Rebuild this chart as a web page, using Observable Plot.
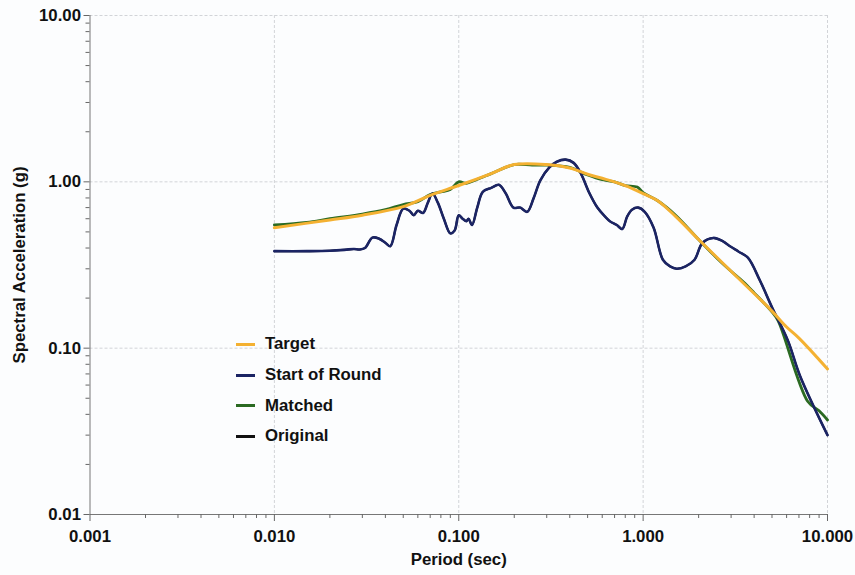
<!DOCTYPE html>
<html><head><meta charset="utf-8">
<script src="https://cdn.jsdelivr.net/npm/d3@7"></script>
<script src="https://cdn.jsdelivr.net/npm/@observablehq/plot@0.6"></script>
<style>
body{margin:0;background:#fff;}
#wrap{position:relative;width:855px;height:575px;font-family:"Liberation Sans",Arial,sans-serif;}
#legend{position:absolute;left:236px;top:329px;font-weight:bold;font-size:16.8px;color:#111;}
.row{display:flex;align-items:center;height:30.7px;}
.sw{width:19px;height:3px;margin-right:10px;}
</style></head><body><div id="wrap"></div>
<script>
// Axis ticks
const majorX = [0.001, 0.01, 0.1, 1, 10];
const majorY = [0.01, 0.1, 1, 10];
const gridXVals = [0.01, 0.1, 1, 10];
const gridYVals = [0.1, 1, 10];
const minorX = [2,3,4,5,6,7,8,9].flatMap(m => [0.001, 0.01, 0.1, 1].map(d => m * d));
const minorY = [2,3,4,5,6,7,8,9].flatMap(m => [0.01, 0.1, 1].map(d => m * d));

// Series
const seriesNames = ["Target", "Start of Round", "Matched", "Original"];
const seriesColors = ["#F4B132", "#1B2464", "#2B6A22", "#111111"];

const targetT  = [0.01, 0.02, 0.03, 0.05, 0.07, 0.1, 0.15, 0.2, 0.3, 0.4, 0.5, 0.6, 0.8, 1.0, 1.2, 1.5, 2.0, 3.0, 4.0, 5.0, 6.0, 7.0, 10.0];
const targetSA = [0.53, 0.59, 0.63, 0.71, 0.83, 0.95, 1.12, 1.27, 1.27, 1.21, 1.11, 1.05, 0.95, 0.85, 0.77, 0.62, 0.45, 0.29, 0.213, 0.167, 0.134, 0.115, 0.075];

const startT  = [0.010, 0.015, 0.020, 0.024, 0.027, 0.029, 0.031, 0.034, 0.037, 0.040, 0.0425, 0.046, 0.050, 0.054, 0.057, 0.060, 0.064, 0.068, 0.072, 0.077, 0.083, 0.090, 0.095, 0.100, 0.105, 0.110, 0.113, 0.118, 0.126, 0.135, 0.150, 0.165, 0.180, 0.198, 0.215, 0.235, 0.255, 0.277, 0.31, 0.34, 0.38, 0.42, 0.46, 0.51, 0.565, 0.62, 0.66, 0.72, 0.77, 0.82, 0.87, 0.94, 1.02, 1.14, 1.28, 1.40, 1.52, 1.70, 1.90, 2.10, 2.40, 2.70, 2.96, 3.30, 3.70, 4.30, 5.0, 6.1, 7.1, 10.0];
const startSA = [0.383, 0.383, 0.385, 0.390, 0.395, 0.392, 0.400, 0.462, 0.455, 0.430, 0.410, 0.550, 0.690, 0.670, 0.630, 0.670, 0.650, 0.750, 0.850, 0.750, 0.600, 0.490, 0.510, 0.630, 0.600, 0.580, 0.600, 0.550, 0.700, 0.870, 0.920, 0.960, 0.850, 0.700, 0.700, 0.660, 0.800, 1.02, 1.22, 1.32, 1.36, 1.30, 1.12, 0.86, 0.70, 0.62, 0.58, 0.55, 0.52, 0.62, 0.68, 0.70, 0.66, 0.53, 0.34, 0.31, 0.30, 0.31, 0.34, 0.43, 0.46, 0.44, 0.41, 0.38, 0.35, 0.255, 0.176, 0.111, 0.068, 0.030];

const matchedT  = [0.010, 0.015, 0.020, 0.030, 0.040, 0.050, 0.060, 0.070, 0.080, 0.090, 0.100, 0.110, 0.130, 0.150, 0.200, 0.250, 0.300, 0.400, 0.500, 0.600, 0.700, 0.800, 0.930, 1.000, 1.200, 1.500, 2.000, 2.500, 3.000, 3.500, 4.000, 5.000, 5.400, 7.800, 9.000, 10.00];
const matchedSA = [0.55, 0.57, 0.60, 0.64, 0.68, 0.73, 0.76, 0.84, 0.87, 0.90, 1.00, 0.98, 1.05, 1.12, 1.27, 1.26, 1.26, 1.22, 1.10, 1.03, 1.00, 0.95, 0.93, 0.86, 0.77, 0.63, 0.45, 0.35, 0.29, 0.25, 0.215, 0.165, 0.146, 0.048, 0.042, 0.037];

const originalT = startT;
const originalSA = startSA;

const toRows = (T, SA) => T.map((t, i) => ({T: t, SA: SA[i]}));
const target = toRows(targetT, targetSA);
const start = toRows(startT, startSA);
const matched = toRows(matchedT, matchedSA);
const original = toRows(originalT, originalSA);

const bold = {fontSize: 16.8, fontWeight: "bold", fill: "#111"};

const chart = Plot.plot({
  width: 855, height: 575,
  marginLeft: 89.5, marginRight: 28, marginTop: 15, marginBottom: 61,
  style: {fontFamily: "'Liberation Sans', Arial, sans-serif", background: "#fcfdfe", overflow: "visible"},
  x: {type: "log", domain: [0.001, 10]},
  y: {type: "log", domain: [0.01, 10]},
  marks: [
    Plot.gridX(gridXVals, {stroke: "#d2d4d8", strokeOpacity: 1, strokeDasharray: "3,2"}),
    Plot.gridY(gridYVals, {stroke: "#d2d4d8", strokeOpacity: 1, strokeDasharray: "3,2"}),
    Plot.ruleX([0.001], {stroke: "#777"}),
    Plot.ruleY([0.01], {stroke: "#777"}),
    Plot.axisX(minorX, {tickSize: 4, fill: "none", stroke: "#666", label: null}),
    Plot.axisY(minorY, {tickSize: 4, fill: "none", stroke: "#666", label: null}),
    Plot.axisX(majorX, {tickSize: 7, tickPadding: 9, tickFormat: d3.format(".3f"), ...bold, stroke: "#666",
      label: "Period (sec)", labelAnchor: "center", labelOffset: 50, labelArrow: false}),
    Plot.axisY(majorY, {tickSize: 6, tickPadding: 3, tickFormat: d3.format(".2f"), ...bold, stroke: "#666",
      label: "Spectral Acceleration (g)", labelAnchor: "center", labelOffset: 77, labelArrow: false}),
    Plot.line(original, {x: "T", y: "SA", stroke: seriesColors[3], strokeWidth: 2, curve: "catmull-rom"}),
    Plot.line(matched, {x: "T", y: "SA", stroke: seriesColors[2], strokeWidth: 2.8, curve: "catmull-rom"}),
    Plot.line(start, {x: "T", y: "SA", stroke: seriesColors[1], strokeWidth: 2.6, curve: "catmull-rom"}),
    Plot.line(target, {x: "T", y: "SA", stroke: seriesColors[0], strokeWidth: 3, curve: "catmull-rom"})
  ]
});

const wrap = document.getElementById("wrap");
wrap.appendChild(chart);
const legend = document.createElement("div");
legend.id = "legend";
seriesNames.forEach((name, i) => {
  const row = document.createElement("div");
  row.className = "row";
  const sw = document.createElement("span");
  sw.className = "sw";
  sw.style.background = seriesColors[i];
  const label = document.createElement("span");
  label.textContent = name;
  row.appendChild(sw);
  row.appendChild(label);
  legend.appendChild(row);
});
wrap.appendChild(legend);
</script>
</body></html>
